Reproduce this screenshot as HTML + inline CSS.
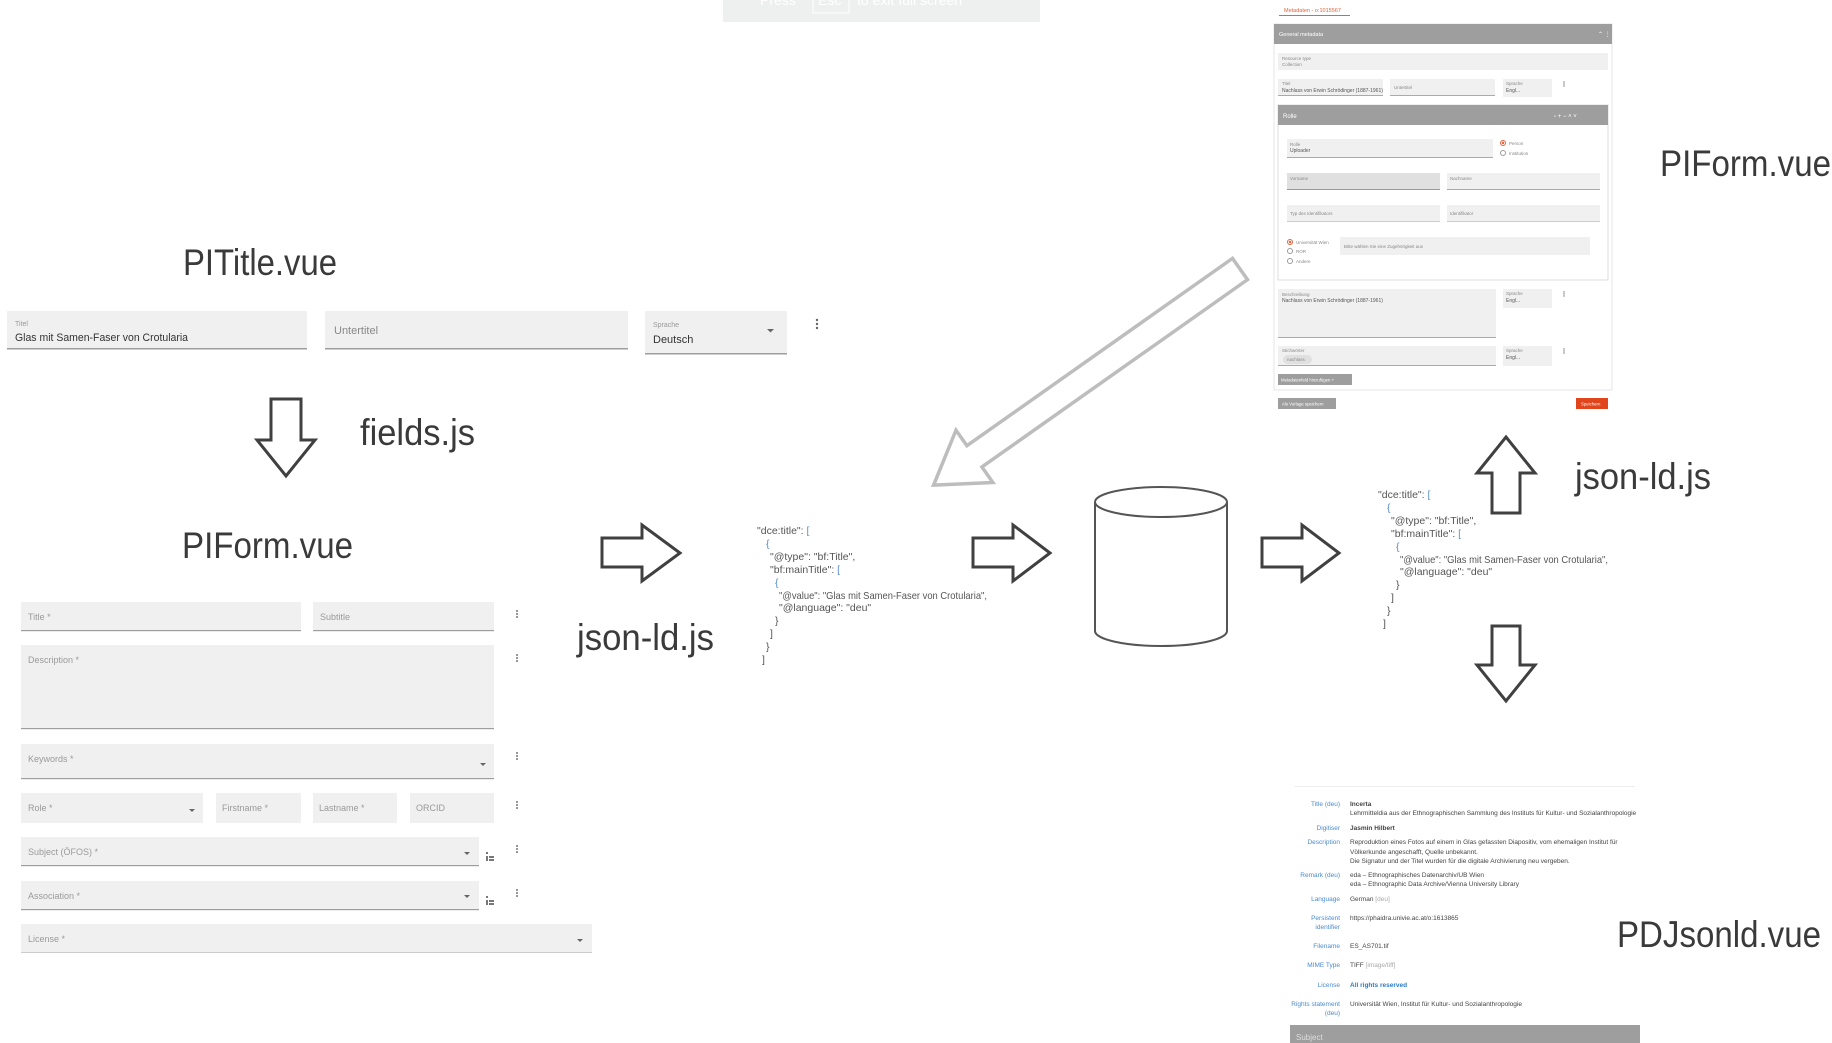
<!DOCTYPE html>
<html><head><meta charset="utf-8"><style>
html,body{margin:0;padding:0;background:#fff;width:1832px;height:1043px;overflow:hidden}
svg{display:block}
text{font-family:"Liberation Sans",sans-serif}
.big{font-size:37px;fill:#3a3a3a}
.js{font-size:10.5px;fill:#555}
.br{fill:#5b8fc7}
.lab{font-size:9px;fill:#9a9a9a}
.tl{font-size:4.5px;fill:#888}
.tv{font-size:5px;fill:#555}
.pl{font-size:6.5px;fill:#4a8bd0;text-anchor:end}
.pv{font-size:6.5px;fill:#444}
</style></head><body>
<svg width="1832" height="1043" viewBox="0 0 1832 1043" xmlns="http://www.w3.org/2000/svg">
<!-- top banner -->
<rect x="723" y="0" width="317" height="22" fill="#eef0ef"/>
<rect x="813" y="-4" width="36" height="17" fill="none" stroke="#fff" stroke-width="1"/>
<text x="760" y="5" font-size="14" fill="#fff">Press</text>
<text x="818" y="5" font-size="14" fill="#fff">Esc</text>
<text x="857" y="5" font-size="14" fill="#fff">to exit full screen</text>

<!-- big labels -->
<text class="big" x="183" y="275" textLength="154" lengthAdjust="spacingAndGlyphs">PITitle.vue</text>
<text class="big" x="360" y="445" textLength="115" lengthAdjust="spacingAndGlyphs">fields.js</text>
<text class="big" x="182" y="558" textLength="171" lengthAdjust="spacingAndGlyphs">PIForm.vue</text>
<text class="big" x="577" y="650" textLength="137" lengthAdjust="spacingAndGlyphs">json-ld.js</text>
<text class="big" x="1660" y="176" textLength="171" lengthAdjust="spacingAndGlyphs">PIForm.vue</text>
<text class="big" x="1575" y="489" textLength="136" lengthAdjust="spacingAndGlyphs">json-ld.js</text>
<text class="big" x="1617" y="947" textLength="204" lengthAdjust="spacingAndGlyphs">PDJsonld.vue</text>

<!-- PITitle row -->
<rect x="7" y="311" width="300" height="38" fill="#f0f0f0"/><rect x="7" y="348" width="300" height="1.5" fill="#9e9e9e"/>
<text x="15" y="326" font-size="7" fill="#999">Titel</text>
<text x="15" y="341" font-size="11" fill="#333" textLength="173" lengthAdjust="spacingAndGlyphs">Glas mit Samen-Faser von Crotularia</text>
<rect x="325" y="311" width="303" height="38" fill="#f0f0f0"/><rect x="325" y="348" width="303" height="1.5" fill="#9e9e9e"/>
<text x="334" y="334" font-size="11" fill="#888">Untertitel</text>
<rect x="645" y="311" width="142" height="43" fill="#f0f0f0"/><rect x="645" y="353" width="142" height="1.5" fill="#9e9e9e"/>
<text x="653" y="327" font-size="7" fill="#999">Sprache</text>
<text x="653" y="343" font-size="11" fill="#333">Deutsch</text>
<path d="M767 329l3.5 3.5 3.5-3.5z" fill="#666"/>
<g fill="#666"><circle cx="817" cy="320" r="1.2"/><circle cx="817" cy="324" r="1.2"/><circle cx="817" cy="328" r="1.2"/></g>

<!-- arrows dark -->
<g fill="#fff" stroke="#404040" stroke-width="3" stroke-linejoin="miter">
<polygon points="271,399 301,399 301,440 315,440 286,476 257,440 271,440"/>
<polygon points="602,538 642,538 642,525 680,553 642,581 642,567 602,567"/>
<polygon points="973,538 1013,538 1013,525 1050,553 1013,581 1013,567 973,567"/>
<polygon points="1262,538 1302,538 1302,525 1339,553 1302,581 1302,567 1262,567"/>
<polygon points="1506,437 1535,473 1520,473 1520,513 1492,513 1492,473 1477,473"/>
<polygon points="1492,626 1520,626 1520,665 1535,665 1506,701 1477,665 1492,665"/>
</g>
<!-- diagonal gray arrow -->
<polygon transform="translate(1240,269) rotate(144.8)" points="0,-13 325,-13 325,-32 375,0 325,32 325,13 0,13" fill="#fff" stroke="#bdbdbd" stroke-width="3.5"/>

<!-- cylinder -->
<g fill="#fff" stroke="#555" stroke-width="2">
<path d="M1095 502 L1095 631 A66 15 0 0 0 1227 631 L1227 502"/>
<ellipse cx="1161" cy="502" rx="66" ry="15"/>
</g>

<!-- JSON 1 -->
<g class="js">
<text x="757" y="534">"dce:title": <tspan class="br">[</tspan></text>
<text x="766" y="547" class="br">{</text>
<text x="770" y="560">"@type": "bf:Title",</text>
<text x="770" y="573">"bf:mainTitle": <tspan class="br">[</tspan></text>
<text x="775" y="586" class="br">{</text>
<text x="779" y="599" textLength="208" lengthAdjust="spacingAndGlyphs">"@value": "Glas mit Samen-Faser von Crotularia",</text>
<text x="779" y="611">"@language": "deu"</text>
<text x="775" y="624">}</text>
<text x="770" y="637">]</text>
<text x="766" y="650">}</text>
<text x="762" y="663">]</text>
</g>
<!-- JSON 2 -->
<g class="js">
<text x="1378" y="498">"dce:title": <tspan class="br">[</tspan></text>
<text x="1387" y="511" class="br">{</text>
<text x="1391" y="524">"@type": "bf:Title",</text>
<text x="1391" y="537">"bf:mainTitle": <tspan class="br">[</tspan></text>
<text x="1396" y="550" class="br">{</text>
<text x="1400" y="563" textLength="208" lengthAdjust="spacingAndGlyphs">"@value": "Glas mit Samen-Faser von Crotularia",</text>
<text x="1400" y="575">"@language": "deu"</text>
<text x="1396" y="588">}</text>
<text x="1391" y="601">]</text>
<text x="1387" y="614">}</text>
<text x="1383" y="627">]</text>
</g>

<!-- PIForm left -->
<g>
<rect x="21" y="602" width="280" height="28" fill="#f0f0f0"/><rect x="21" y="630" width="280" height="1.2" fill="#9e9e9e"/>
<text class="lab" x="28" y="620">Title *</text>
<rect x="313" y="602" width="181" height="28" fill="#f0f0f0"/><rect x="313" y="630" width="181" height="1.2" fill="#9e9e9e"/>
<text class="lab" x="320" y="620">Subtitle</text>
<rect x="21" y="645" width="473" height="83" fill="#f0f0f0"/><rect x="21" y="728" width="473" height="1.2" fill="#9e9e9e"/>
<text class="lab" x="28" y="663">Description *</text>
<rect x="21" y="744" width="473" height="34" fill="#f0f0f0"/><rect x="21" y="778" width="473" height="1.2" fill="#9e9e9e"/>
<text class="lab" x="28" y="762">Keywords *</text>
<rect x="21" y="793" width="182" height="30" fill="#f0f0f0"/>
<text class="lab" x="28" y="811">Role *</text>
<rect x="216" y="793" width="85" height="30" fill="#f0f0f0"/>
<text class="lab" x="222" y="811">Firstname *</text>
<rect x="313" y="793" width="84" height="30" fill="#f0f0f0"/>
<text class="lab" x="319" y="811">Lastname *</text>
<rect x="410" y="793" width="84" height="30" fill="#f0f0f0"/>
<text class="lab" x="416" y="811">ORCID</text>
<rect x="21" y="837" width="458" height="28" fill="#f0f0f0"/><rect x="21" y="865" width="458" height="1.2" fill="#9e9e9e"/>
<text class="lab" x="28" y="855">Subject (ÖFOS) *</text>
<rect x="21" y="881" width="458" height="28" fill="#f0f0f0"/><rect x="21" y="909" width="458" height="1.2" fill="#9e9e9e"/>
<text class="lab" x="28" y="899">Association *</text>
<rect x="21" y="924" width="571" height="28" fill="#f0f0f0"/><rect x="21" y="952" width="571" height="1" fill="#ccc"/>
<text class="lab" x="28" y="942">License *</text>
<g fill="#666">
<path d="M480 763l3 3 3-3z"/><path d="M189 809l3 3 3-3z"/><path d="M464 852l3 3 3-3z"/><path d="M464 895l3 3 3-3z"/><path d="M577 939l3 3 3-3z"/>
</g>
<g fill="#777">
<circle cx="517" cy="611" r="1"/><circle cx="517" cy="614" r="1"/><circle cx="517" cy="617" r="1"/>
<circle cx="517" cy="655" r="1"/><circle cx="517" cy="658" r="1"/><circle cx="517" cy="661" r="1"/>
<circle cx="517" cy="753" r="1"/><circle cx="517" cy="756" r="1"/><circle cx="517" cy="759" r="1"/>
<circle cx="517" cy="802" r="1"/><circle cx="517" cy="805" r="1"/><circle cx="517" cy="808" r="1"/>
<circle cx="517" cy="846" r="1"/><circle cx="517" cy="849" r="1"/><circle cx="517" cy="852" r="1"/>
<circle cx="517" cy="890" r="1"/><circle cx="517" cy="893" r="1"/><circle cx="517" cy="896" r="1"/>
<rect x="486" y="852" width="2" height="2"/><rect x="486" y="856" width="2" height="5"/><rect x="489" y="856" width="5" height="2"/><rect x="489" y="859" width="5" height="2"/>
<rect x="486" y="896" width="2" height="2"/><rect x="486" y="900" width="2" height="5"/><rect x="489" y="900" width="5" height="2"/><rect x="489" y="903" width="5" height="2"/>
</g>
</g>

<!-- top-right PIForm screenshot -->
<g>
<text x="1284" y="12" font-size="5.5" fill="#e5623a">Metadaten - o:1015567</text>
<rect x="1279" y="15" width="71" height="1" fill="#e5623a"/>
<rect x="1274" y="24" width="338" height="366" fill="#fff" stroke="#e4e4e4" stroke-width="1"/>
<rect x="1274" y="24" width="338" height="20" fill="#9e9e9e"/>
<text x="1279" y="36" font-size="5.5" fill="#fff">General metadata</text>
<text x="1598" y="36" font-size="6" fill="#fff">⌃ ⋮</text>
<rect x="1278" y="53" width="330" height="17" fill="#f0f0f0"/>
<text class="tl" x="1282" y="60">Resource type</text><text class="tl" x="1282" y="66">Collection</text>
<rect x="1278" y="79" width="105" height="17" fill="#f0f0f0"/><rect x="1278" y="95" width="105" height="1" fill="#aaa"/>
<text class="tl" x="1282" y="85">Titel</text><text class="tv" x="1282" y="92">Nachlass von Erwin Schrödinger (1887-1961)</text>
<rect x="1390" y="79" width="105" height="17" fill="#f0f0f0"/><rect x="1390" y="95" width="105" height="1" fill="#aaa"/>
<text class="tl" x="1394" y="89">Untertitel</text>
<rect x="1503" y="79" width="49" height="18" fill="#f0f0f0"/>
<text class="tl" x="1506" y="85">Sprache</text><text class="tv" x="1506" y="92">Engl...</text>
<rect x="1278" y="105" width="330" height="175" fill="#fff" stroke="#ddd" stroke-width="1"/>
<rect x="1278" y="105" width="330" height="20" fill="#9e9e9e"/>
<text x="1283" y="118" font-size="6" fill="#fff">Rolle</text>
<text x="1554" y="118" font-size="6" fill="#fff">▫ + − ˄ ˅</text>
<rect x="1287" y="139" width="206" height="19" fill="#f0f0f0"/><rect x="1287" y="157" width="206" height="1" fill="#aaa"/>
<text class="tl" x="1290" y="146">Rolle</text><text class="tv" x="1290" y="152">Uploader</text>
<circle cx="1503" cy="143" r="2.5" fill="none" stroke="#e5623a"/><circle cx="1503" cy="143" r="1.2" fill="#e5623a"/>
<circle cx="1503" cy="153" r="2.5" fill="none" stroke="#999"/>
<text class="tl" x="1509" y="145">Person</text><text class="tl" x="1509" y="155">Institution</text>
<rect x="1287" y="173" width="153" height="17" fill="#e0e0e0"/><rect x="1287" y="189" width="153" height="1" fill="#999"/>
<rect x="1447" y="173" width="153" height="17" fill="#f0f0f0"/><rect x="1447" y="189" width="153" height="1" fill="#aaa"/>
<text class="tl" x="1290" y="180">Vorname</text><text class="tl" x="1450" y="180">Nachname</text>
<rect x="1287" y="205" width="153" height="17" fill="#f0f0f0"/><rect x="1287" y="221" width="153" height="1" fill="#ccc"/>
<rect x="1447" y="205" width="153" height="17" fill="#f0f0f0"/><rect x="1447" y="221" width="153" height="1" fill="#ccc"/>
<text class="tl" x="1290" y="215">Typ des Identifikators</text><text class="tl" x="1450" y="215">Identifikator</text>
<circle cx="1290" cy="242" r="2.5" fill="none" stroke="#e5623a"/><circle cx="1290" cy="242" r="1.2" fill="#e5623a"/>
<circle cx="1290" cy="251" r="2.5" fill="none" stroke="#999"/><circle cx="1290" cy="261" r="2.5" fill="none" stroke="#999"/>
<text class="tl" x="1296" y="244">Universität Wien</text><text class="tl" x="1296" y="253">ROR</text><text class="tl" x="1296" y="263">Andere</text>
<rect x="1340" y="237" width="250" height="18" fill="#f0f0f0"/>
<text class="tl" x="1344" y="248">Bitte wählen Sie eine Zugehörigkeit aus</text>
<rect x="1278" y="289" width="218" height="49" fill="#f0f0f0"/><rect x="1278" y="337" width="218" height="1" fill="#aaa"/>
<text class="tl" x="1282" y="296">Beschreibung</text><text class="tv" x="1282" y="302">Nachlass von Erwin Schrödinger (1887-1961)</text>
<rect x="1503" y="289" width="49" height="19" fill="#f0f0f0"/>
<text class="tl" x="1506" y="295">Sprache</text><text class="tv" x="1506" y="302">Engl...</text>
<rect x="1278" y="346" width="218" height="20" fill="#f0f0f0"/><rect x="1278" y="365" width="218" height="1" fill="#aaa"/>
<text class="tl" x="1282" y="352">Stichwörter</text>
<rect x="1283" y="355" width="29" height="9" rx="4.5" fill="#e0e0e0"/><text class="tl" x="1287" y="361">nachlass</text>
<rect x="1503" y="346" width="49" height="20" fill="#f0f0f0"/>
<text class="tl" x="1506" y="352">Sprache</text><text class="tv" x="1506" y="359">Engl...</text>
<rect x="1278" y="374" width="74" height="11" fill="#9e9e9e"/>
<text x="1281" y="381.5" font-size="4.3" fill="#fff">Metadatenfeld hinzufügen +</text>
<rect x="1278" y="398" width="58" height="11" fill="#9e9e9e"/>
<text x="1282" y="405.5" font-size="4.3" fill="#fff">Als Vorlage speichern</text>
<rect x="1576" y="398" width="32" height="11" fill="#e0451b"/>
<text x="1581" y="405.5" font-size="4.3" fill="#fff">Speichern</text>
<g fill="#777"><circle cx="1564" cy="82" r=".7"/><circle cx="1564" cy="84" r=".7"/><circle cx="1564" cy="86" r=".7"/>
<circle cx="1564" cy="292" r=".7"/><circle cx="1564" cy="294" r=".7"/><circle cx="1564" cy="296" r=".7"/>
<circle cx="1564" cy="349" r=".7"/><circle cx="1564" cy="351" r=".7"/><circle cx="1564" cy="353" r=".7"/></g>
</g>

<!-- PDJsonld -->
<g>
<rect x="1295" y="786" width="340" height="1" fill="#eee"/>
<text class="pl" x="1340" y="806">Title (deu)</text>
<text class="pv" x="1350" y="806" font-weight="bold">Incerta</text>
<text class="pv" x="1350" y="815">Lehrmitteldia aus der Ethnographischen Sammlung des Instituts für Kultur- und Sozialanthropologie</text>
<text class="pl" x="1340" y="830">Digitiser</text>
<text class="pv" x="1350" y="830" font-weight="bold">Jasmin  Hilbert</text>
<text class="pl" x="1340" y="844">Description</text>
<text class="pv" x="1350" y="844">Reproduktion eines Fotos auf einem in Glas gefassten Diapositiv, vom ehemaligen Institut für</text>
<text class="pv" x="1350" y="854">Völkerkunde angeschafft, Quelle unbekannt.</text>
<text class="pv" x="1350" y="863">Die Signatur und der Titel wurden für die digitale Archivierung neu vergeben.</text>
<text class="pl" x="1340" y="877">Remark (deu)</text>
<text class="pv" x="1350" y="877">eda – Ethnographisches Datenarchiv/UB Wien</text>
<text class="pv" x="1350" y="886">eda – Ethnographic Data Archive/Vienna University Library</text>
<text class="pl" x="1340" y="901">Language</text>
<text class="pv" x="1350" y="901">German <tspan fill="#aaa">[deu]</tspan></text>
<text class="pl" x="1340" y="920">Persistent</text><text class="pl" x="1340" y="929">identifier</text>
<text class="pv" x="1350" y="920">https://phaidra.univie.ac.at/o:1613865</text>
<text class="pl" x="1340" y="948">Filename</text>
<text class="pv" x="1350" y="948">ES_AS701.tif</text>
<text class="pl" x="1340" y="967">MIME Type</text>
<text class="pv" x="1350" y="967">TIFF <tspan fill="#aaa">[image/tiff]</tspan></text>
<text class="pl" x="1340" y="987">License</text>
<text x="1350" y="987" font-size="6.5" fill="#2a7bc8" font-weight="bold">All rights reserved</text>
<text class="pl" x="1340" y="1006">Rights statement</text><text class="pl" x="1340" y="1015">(deu)</text>
<text class="pv" x="1350" y="1006">Universität Wien, Institut für Kultur- und Sozialanthropologie</text>
<rect x="1290" y="1025" width="350" height="18" fill="#9e9e9e"/>
<text x="1296" y="1040" font-size="8" fill="#ddd">Subject</text>
</g>
</svg>
</body></html>
